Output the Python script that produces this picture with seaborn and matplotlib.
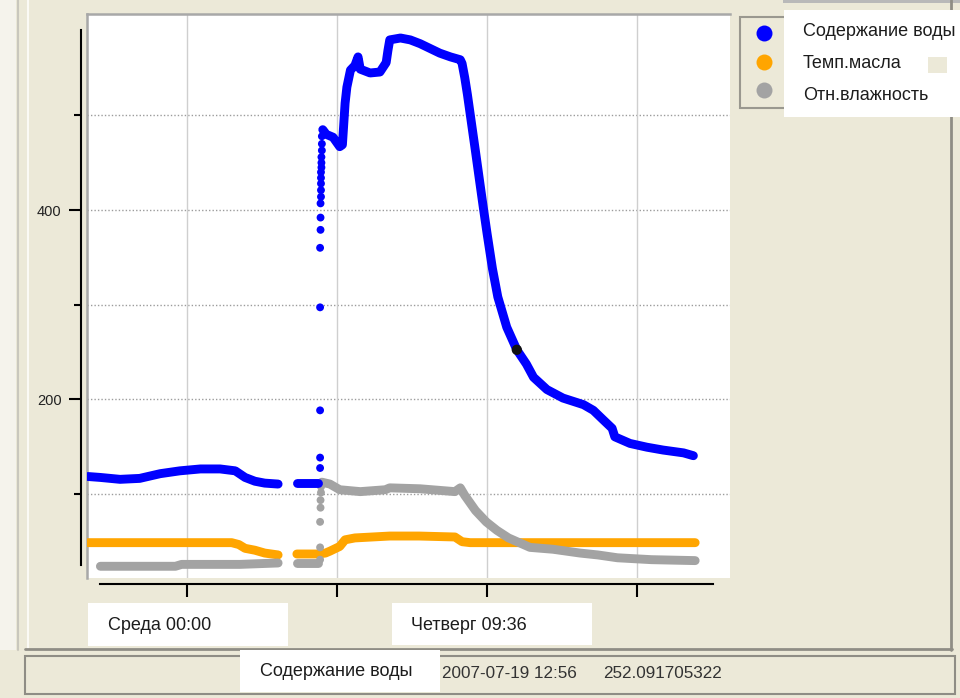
import pandas as pd
import matplotlib
matplotlib.use("Agg")
import matplotlib.pyplot as plt
from matplotlib.patches import Rectangle
from matplotlib.lines import Line2D
import seaborn as sns

# ---- data: time in hours since Среда 2007-07-18 00:00 ----
water_t_before = [-11.1, -9.7, -7.5, -5.3, -3.0, -0.8, 1.5, 3.7, 5.4, 6.5, 7.6, 8.7, 10.2]
water_v_before = [118, 117, 115, 116, 121, 124, 126, 126, 124, 117, 113, 111, 110]
water_t_pause = [12.3, 13.5, 14.7]
water_v_pause = [111, 111, 111]
water_t_jump = [14.9, 14.9, 14.9, 14.9, 14.9, 14.95, 14.95, 14.95, 15.0, 15.0,
                15.0, 15.0, 15.0, 15.05, 15.05, 15.05, 15.1, 15.1, 15.1]
water_v_jump = [138, 127, 188, 297, 360, 379, 392, 407, 414, 421,
                428, 434, 440, 445, 450, 456, 463, 470, 478]
water_t_after = [15.2, 15.6, 16.35, 17.1, 17.4, 17.7, 17.9, 18.3, 18.8, 19.15,
                 19.4, 20.5, 21.6, 22.3, 22.5, 22.7, 23.9, 25.0, 26.1, 27.2,
                 28.3, 29.5, 30.6, 30.8, 31.1, 31.4, 31.7, 32.3, 32.8, 33.2,
                 33.6, 34.2, 34.8, 35.8, 36.93, 38.0, 38.8, 40.3, 42.1, 44.4,
                 45.5, 46.6, 47.6, 47.9, 49.6, 51.5, 53.3, 55.6, 56.7]
water_v_after = [485, 480, 477, 467, 469, 513, 530, 548, 553, 562,
                 549, 545, 546, 556, 569, 580, 582, 580, 576, 571,
                 566, 562, 559, 555, 540, 522, 502, 462, 428, 401,
                 375, 338, 308, 276, 252.091705322, 237, 223, 210, 201, 194,
                 188, 178, 169, 160, 153, 149, 146, 143, 140]

oil_t_before = [-11.1, -5.0, 0.0, 5.0, 5.8, 6.5, 7.6, 8.7, 10.2]
oil_v_before = [48, 48, 48, 48, 46, 42, 40, 37, 35]
oil_t_after = [12.3, 14.7, 15.5, 16.0, 17.1, 17.7, 18.8, 22.7, 26.0, 30.0,
               30.8, 31.7, 40.0, 50.0, 56.9]
oil_v_after = [36, 36, 37, 39, 44, 51, 53, 55, 55, 54,
               49, 48, 48, 48, 48]

rh_t_before = [-9.7, -1.3, -0.6, 5.9, 10.2]
rh_v_before = [23, 23, 25, 25, 26.5]
rh_t_pause = [12.3, 13.5, 14.7]
rh_v_pause = [26.5, 26.5, 26.5]
rh_t_jump = [14.9, 14.9, 14.9, 14.95, 14.95, 15.0, 15.0, 15.05]
rh_v_jump = [30, 43, 70, 85, 93, 101, 107, 110]
rh_t_after = [15.1, 16.0, 17.1, 19.4, 22.2, 22.7, 26.1, 30.0, 30.6, 31.1,
              32.3, 33.5, 34.7, 36.0, 38.4, 41.0, 44.0, 46.0, 48.2, 52.0, 56.9]
rh_v_after = [112, 110, 104, 102, 104, 106, 105, 102, 106, 98,
              82, 70, 61, 53, 43, 41, 37, 35, 32, 30, 29]

cursor_t = 36.93
cursor_v = 252.091705322
cursor_stamp = "2007-07-19 12:56"

series_names = ["Содержание воды", "Темп.масла", "Отн.влажность"]
series_colors = ["#0000ff", "#ffa500", "#a3a3a3"]
x_tick_hours = [0.0, 16.8, 33.6, 50.4]
x_tick_names = ["Среда 00:00", "Четверг 09:36"]
y_ticks = [100, 200, 300, 400, 500]
y_tick_names = ["", "200", "", "400", ""]


def segments(*pairs):
    frames = []
    for i, (t, v) in enumerate(pairs):
        frames.append(pd.DataFrame({"t": t, "v": v, "seg": i}))
    return pd.concat(frames, ignore_index=True)


water = segments((water_t_before, water_v_before), (water_t_pause, water_v_pause),
                 (water_t_after, water_v_after))
oil = segments((oil_t_before, oil_v_before), (oil_t_after, oil_v_after))
rh = segments((rh_t_before, rh_v_before), (rh_t_pause, rh_v_pause),
              (rh_t_after, rh_v_after))
water_jump = pd.DataFrame({"t": water_t_jump, "v": water_v_jump})
rh_jump = pd.DataFrame({"t": rh_t_jump, "v": rh_v_jump})
cursor = pd.DataFrame({"t": [cursor_t], "v": [cursor_v]})

# ---- figure ----
sns.set_theme(style="white")
plt.rcParams["font.family"] = ["Liberation Sans", "DejaVu Sans"]

W, H = 960, 698
BEIGE = "#ece9d8"
EDGE = "#8f8d85"
fig = plt.figure(figsize=(W / 100, H / 100), dpi=100, facecolor=BEIGE)


def fx(px):
    return px / W


def fy(py):
    return 1 - py / H


def box(x0, y0, x1, y1, face, edge="none", lw=0, z=1):
    fig.add_artist(Rectangle((fx(x0), fy(y1)), (x1 - x0) / W, (y1 - y0) / H,
                             transform=fig.transFigure, facecolor=face,
                             edgecolor=edge, linewidth=lw, zorder=z))


def seg_line(x0, y0, x1, y1, color, lw, z=2):
    fig.add_artist(Line2D([fx(x0), fx(x1)], [fy(y0), fy(y1)],
                          transform=fig.transFigure, color=color, linewidth=lw,
                          zorder=z))


# window frame
box(0, 0, 16, 650, "#f5f3ec", z=0)
seg_line(18, 0, 18, 650, "#c9c7bd", 1.5)
seg_line(28, 0, 28, 650, "#fbfaf5", 1.5)
seg_line(951, 0, 951, 650, EDGE, 2)
seg_line(25, 649, 952, 649, EDGE, 2)
box(25, 656, 955, 694, BEIGE, EDGE, 1.5)

XLIM = (-11.2, 60.8)
YLIM = (10.6, 607.4)

# plotting area
ax = fig.add_axes([fx(87), fy(578), (730 - 87) / W, (578 - 14) / H])
ax.set_facecolor("white")
ax.set_xlim(XLIM)
ax.set_ylim(YLIM)
for side in ["right", "bottom"]:
    ax.spines[side].set_visible(False)
for side in ["top", "left"]:
    ax.spines[side].set_color("#a8a8a8")
    ax.spines[side].set_linewidth(1.8)
ax.set_xticks([])
ax.set_yticks([])
for h in y_ticks:
    ax.axhline(h, color="#9c9c9c", linewidth=1.0, linestyle=(0, (1, 1.5)), zorder=1)
for t in x_tick_hours:
    ax.axvline(t, color="#cfcfcf", linewidth=1.0, zorder=1)

line_kw = dict(x="t", y="v", units="seg", estimator=None, sort=False,
               linewidth=6.4, legend=False, ax=ax)
sns.lineplot(data=oil, color=series_colors[1], solid_capstyle="round",
             solid_joinstyle="round", zorder=3, **line_kw)
sns.scatterplot(data=rh_jump, x="t", y="v", color=series_colors[2], s=32,
                edgecolor="none", ax=ax, zorder=4, legend=False)
sns.lineplot(data=rh, color=series_colors[2], solid_capstyle="round",
             solid_joinstyle="round", zorder=4, **line_kw)
sns.scatterplot(data=water_jump, x="t", y="v", color=series_colors[0], s=32,
                edgecolor="none", ax=ax, zorder=5, legend=False)
sns.lineplot(data=water, color=series_colors[0], solid_capstyle="round",
             solid_joinstyle="round", zorder=5, **line_kw)
sns.scatterplot(data=cursor, x="t", y="v", color="#111111", s=55,
                edgecolor="none", ax=ax, zorder=6, legend=False)
ax.set_xlabel("")
ax.set_ylabel("")

# detached value axis
ay = fig.add_axes([fx(81), fy(578), 0.0005, (578 - 14) / H])
ay.patch.set_alpha(0)
ay.set_ylim(YLIM)
ay.set_xticks([])
for side in ["right", "top", "bottom"]:
    ay.spines[side].set_visible(False)
ay.spines["left"].set_color("black")
ay.spines["left"].set_linewidth(1.5)
ay.spines["left"].set_bounds(24, 590)
ay.set_yticks([200, 400])
ay.set_yticklabels([y_tick_names[1], y_tick_names[3]], fontsize=10.5, color="#222222")
ay.set_yticks([100, 300, 500], minor=True)
ay.tick_params(axis="y", which="major", length=8.6, width=1.5, color="black",
               pad=5.5, left=True)
ay.tick_params(axis="y", which="minor", length=5, width=1.5, color="black",
               left=True)

# detached time axis
axx = fig.add_axes([fx(87), fy(584), (730 - 87) / W, 0.0005])
axx.patch.set_alpha(0)
axx.set_xlim(XLIM)
axx.set_yticks([])
for side in ["right", "top", "left"]:
    axx.spines[side].set_visible(False)
axx.spines["bottom"].set_color("black")
axx.spines["bottom"].set_linewidth(1.5)
axx.spines["bottom"].set_bounds(-9.74, 58.9)
axx.set_xticks(x_tick_hours)
axx.set_xticklabels([])
axx.tick_params(axis="x", length=9.4, width=1.5, color="black", bottom=True)

# time labels in white panels
TXT = "#1c1c1c"
box(88, 603, 288, 646, "white")
fig.text(fx(108), fy(625), x_tick_names[0], fontsize=13, color=TXT, va="center")
box(392, 603, 592, 645, "white")
fig.text(fx(411), fy(625), x_tick_names[1], fontsize=13, color=TXT, va="center")

# status bar
box(240, 650, 440, 692, "white", z=3)
fig.text(fx(260), fy(672), series_names[0], fontsize=13, color=TXT, va="center", zorder=4)
fig.text(fx(442), fy(674), cursor_stamp, fontsize=12.3, color="#333333", va="center")
fig.text(fx(603), fy(674), f"{cursor_v:.9f}", fontsize=12.3, color="#333333", va="center")

# legend panel
box(740, 17, 950, 108, BEIGE, "#9a988f", 1.5)
box(783, 0, 960, 3, "#b9b9b9")
box(784, 10, 960, 117, "white", z=2)
box(928, 57, 947, 73, BEIGE, z=3)
legend_rows = [33, 62, 90]
legend_text_rows = [32, 63, 96]
for name, color, ym, yt in zip(series_names, series_colors, legend_rows, legend_text_rows):
    fig.add_artist(Line2D([fx(764)], [fy(ym)], transform=fig.transFigure,
                          marker="o", markersize=11.5, color=color,
                          markeredgewidth=0, linestyle="none", zorder=4))
    fig.text(fx(803), fy(yt), name, fontsize=13, color=TXT, va="center", zorder=5)

fig.savefig("out.png", dpi=100, facecolor=BEIGE)
